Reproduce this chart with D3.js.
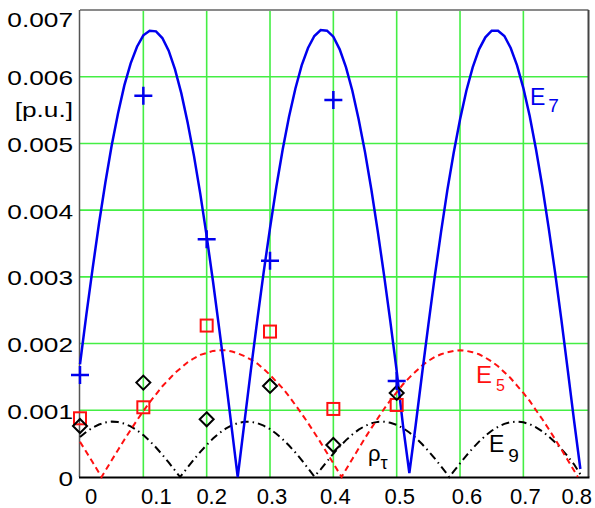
<!DOCTYPE html>
<html>
<head>
<meta charset="utf-8">
<script src="https://cdn.jsdelivr.net/npm/d3@7"></script>
<style>
  html, body { margin: 0; padding: 0; background: #fff; }
  svg { display: block; font-family: "Liberation Sans", Arial, sans-serif; }
</style>
</head>
<body>
<svg id="chart" width="595" height="508"></svg>
<script>
// ---------------- data ----------------
const xTicks = [0, 0.1, 0.2, 0.3, 0.4, 0.5, 0.6, 0.7, 0.8];
const xTickLabels = ["0", "0.1", "0.2", "0.3", "0.4", "0.5", "0.6", "0.7", "0.8"];
const yTicks = [0, 0.001, 0.002, 0.003, 0.004, 0.005, 0.006, 0.007];
const yTickLabels = ["0", "0.001", "0.002", "0.003", "0.004", "0.005", "0.006", "0.007"];
const xGrid = [0.1, 0.2, 0.3, 0.4, 0.5, 0.6, 0.7];
const yGrid = [0.001, 0.002, 0.003, 0.004, 0.005, 0.006];

// E7 (blue solid)
const e7X = [0,0.01,0.02,0.03,0.04,0.05,0.06,0.07,0.08,0.09,0.10,0.11,0.12,0.13,0.14,0.15,0.16,0.17,0.18,0.19,0.20,0.21,0.22,0.23,0.24,0.249,0.26,0.27,0.28,0.29,0.30,0.31,0.32,0.33,0.34,0.35,0.36,0.37,0.38,0.39,0.40,0.41,0.42,0.43,0.44,0.45,0.46,0.47,0.48,0.49,0.50,0.51,0.52,0.53,0.54,0.55,0.56,0.57,0.58,0.59,0.60,0.61,0.62,0.63,0.64,0.65,0.66,0.67,0.68,0.69,0.70,0.71,0.72,0.73,0.74,0.75,0.76,0.77,0.78,0.79];
const e7Y = [0.00169,0.00243,0.00313,0.00380,0.00441,0.00497,0.00545,0.00587,0.00620,0.00645,0.00662,0.00669,0.00668,0.00658,0.00639,0.00611,0.00575,0.00531,0.00481,0.00424,0.00361,0.00293,0.00221,0.00147,0.00070,0.00000,0.00085,0.00162,0.00236,0.00307,0.00373,0.00435,0.00491,0.00540,0.00582,0.00617,0.00643,0.00661,0.00670,0.00669,0.00660,0.00641,0.00614,0.00579,0.00536,0.00487,0.00431,0.00369,0.00303,0.00233,0.00159,0.00077,0.00006,0.00078,0.00154,0.00228,0.00300,0.00367,0.00430,0.00486,0.00536,0.00579,0.00614,0.00641,0.00659,0.00669,0.00669,0.00661,0.00643,0.00617,0.00583,0.00541,0.00491,0.00435,0.00373,0.00307,0.00236,0.00161,0.00085,0.00012];

// E5 (red dashed)
const e5X = [0,0.01,0.02,0.03,0.034,0.04,0.05,0.06,0.07,0.08,0.09,0.10,0.11,0.12,0.13,0.14,0.15,0.16,0.17,0.18,0.19,0.20,0.21,0.22,0.23,0.24,0.25,0.26,0.27,0.28,0.29,0.30,0.31,0.32,0.33,0.34,0.35,0.36,0.37,0.38,0.39,0.40,0.41,0.413,0.42,0.43,0.44,0.45,0.46,0.47,0.48,0.49,0.50,0.51,0.52,0.53,0.54,0.55,0.56,0.57,0.58,0.59,0.60,0.61,0.62,0.63,0.64,0.65,0.66,0.67,0.68,0.69,0.70,0.71,0.72,0.73,0.74,0.75,0.76,0.77,0.78,0.786];
const e5Y = [0.000528,0.000375,0.00022,0.000063,0,0.000094,0.000251,0.000406,0.000559,0.000707,0.000851,0.000988,0.00112,0.00124,0.00136,0.00146,0.00156,0.00164,0.00172,0.00178,0.00183,0.00186,0.00189,0.0019,0.0019,0.00188,0.00185,0.00181,0.00176,0.0017,0.00162,0.00153,0.00143,0.00133,0.00121,0.00108,0.000948,0.000809,0.000664,0.000515,0.000361,0.000204,0.000047,0,0.000112,0.000271,0.000428,0.000583,0.000733,0.000878,0.00102,0.00115,0.00127,0.00139,0.00149,0.00158,0.00167,0.00174,0.0018,0.00184,0.00187,0.00189,0.0019,0.00189,0.00187,0.00184,0.00179,0.00173,0.00166,0.00157,0.00148,0.00137,0.00126,0.00114,0.001,0.000865,0.000719,0.000568,0.000414,0.000255,0.000096,0];

// E9 (black dash-dot)
const e9X = [0,0.01,0.02,0.03,0.04,0.05,0.06,0.07,0.08,0.09,0.10,0.11,0.12,0.13,0.14,0.15,0.158,0.16,0.17,0.18,0.19,0.20,0.21,0.22,0.23,0.24,0.25,0.26,0.27,0.28,0.29,0.30,0.31,0.32,0.33,0.34,0.35,0.36,0.37,0.38,0.39,0.40,0.41,0.42,0.43,0.44,0.45,0.46,0.47,0.48,0.49,0.50,0.51,0.52,0.53,0.54,0.55,0.56,0.57,0.58,0.583,0.59,0.60,0.61,0.62,0.63,0.64,0.65,0.66,0.67,0.68,0.69,0.70,0.71,0.72,0.73,0.74,0.75,0.76,0.77,0.78,0.79];
const e9Y = [0.000599,0.000677,0.00074,0.000787,0.000817,0.00083,0.000824,0.0008,0.000759,0.000701,0.000628,0.000541,0.000442,0.000334,0.000219,0.000098,0,0.000023,0.000145,0.000263,0.000376,0.000481,0.000576,0.000658,0.000725,0.000776,0.000811,0.000828,0.000827,0.000808,0.00077,0.000717,0.000648,0.000565,0.000472,0.000367,0.000254,0.00013,0.000008,0.000114,0.000234,0.000349,0.000456,0.000553,0.000638,0.00071,0.000765,0.000804,0.000826,0.000829,0.000814,0.000782,0.000732,0.000667,0.000587,0.000494,0.000391,0.00028,0.00016,0.000039,0,0.000084,0.000205,0.000321,0.00043,0.00053,0.000618,0.000693,0.000752,0.000796,0.000822,0.00083,0.000821,0.000791,0.000744,0.000683,0.000607,0.000521,0.000419,0.00031,0.00019,0.00004];

// measured points
const ptX = [0, 0.1, 0.2, 0.3, 0.4, 0.5];
const e7Pts = [0.00153, 0.005715, 0.003565, 0.00324, 0.00565, 0.00144];
const e5Pts = [0.00088, 0.001045, 0.00227, 0.00218, 0.00102, 0.00108];
const e9Pts = [0.000765, 0.001415, 0.000865, 0.001365, 0.00048, 0.00126];

// ---------------- drawing ----------------
const svg = d3.select("#chart");
const L = 80, R = 586.7, T = 10, B = 477;
const x = d3.scaleLinear().domain([0, 0.8]).range([L, R]);
const y = d3.scaleLinear().domain([0, 0.007]).range([B, T]);
const BLUE = "#0000ee", RED = "#ff1010", GREEN = "#44ee44";

// grid
svg.append("g").selectAll("line").data(xGrid).join("line")
  .attr("x1", d => x(d)).attr("x2", d => x(d)).attr("y1", T).attr("y2", B)
  .attr("stroke", GREEN).attr("stroke-width", 1.6);
svg.append("g").selectAll("line").data(yGrid).join("line")
  .attr("x1", L).attr("x2", 588.5).attr("y1", d => y(d)).attr("y2", d => y(d))
  .attr("stroke", GREEN).attr("stroke-width", 1.6);

// frame
svg.append("line").attr("x1", L).attr("x2", 588.5).attr("y1", T).attr("y2", T).attr("stroke", "#8a8a8a").attr("stroke-width", 1.8);
svg.append("line").attr("x1", 588.5).attr("x2", 588.5).attr("y1", T).attr("y2", B).attr("stroke", "#444").attr("stroke-width", 2);
svg.append("line").attr("x1", L - 0.5).attr("x2", L - 0.5).attr("y1", T).attr("y2", B).attr("stroke", "#555").attr("stroke-width", 1.5);
svg.append("line").attr("x1", L - 1).attr("x2", 589.5).attr("y1", B + 0.5).attr("y2", B + 0.5).attr("stroke", "#000").attr("stroke-width", 2);

// curves
const line = d3.line().x(d => x(d[0])).y(d => y(d[1]));
const zip = (a, b) => a.map((v, i) => [v, b[i]]);
svg.append("path").datum(zip(e9X, e9Y)).attr("d", line)
  .attr("fill", "none").attr("stroke", "#000").attr("stroke-width", 2)
  .attr("stroke-dasharray", "8,4,1.5,4");
svg.append("path").datum(zip(e5X, e5Y)).attr("d", line)
  .attr("fill", "none").attr("stroke", RED).attr("stroke-width", 2)
  .attr("stroke-dasharray", "6,4");
svg.append("path").datum(zip(e7X, e7Y)).attr("d", line)
  .attr("fill", "none").attr("stroke", BLUE).attr("stroke-width", 2.5);

// markers
const sq = 12, dm = 7, pl = 9;
svg.append("g").selectAll("rect").data(zip(ptX, e5Pts)).join("rect")
  .attr("x", d => x(d[0]) - sq / 2).attr("y", d => y(d[1]) - sq / 2)
  .attr("width", sq).attr("height", sq)
  .attr("fill", "none").attr("stroke", RED).attr("stroke-width", 2);
svg.append("g").selectAll("path").data(zip(ptX, e9Pts)).join("path")
  .attr("d", d => { const cx = x(d[0]), cy = y(d[1]);
    return `M${cx},${cy - dm}L${cx + dm},${cy}L${cx},${cy + dm}L${cx - dm},${cy}Z`; })
  .attr("fill", "none").attr("stroke", "#000").attr("stroke-width", 2);
svg.append("g").selectAll("path").data(zip(ptX, e7Pts)).join("path")
  .attr("d", d => { const cx = x(d[0]), cy = y(d[1]);
    return `M${cx - pl},${cy}H${cx + pl}M${cx},${cy - pl}V${cy + pl}`; })
  .attr("fill", "none").attr("stroke", BLUE).attr("stroke-width", 2.5);

// x tick labels (slight shifts as in the original)
const xShift = [11, 13, 5, 2, 2, 3, 7, 2, -10];
svg.append("g").selectAll("text").data(xTicks).join("text")
  .attr("x", (d, i) => x(d) + xShift[i]).attr("y", 503.5)
  .attr("text-anchor", "middle").attr("font-size", 22).attr("fill", "#000")
  .text((d, i) => xTickLabels[i]);

// y tick labels (horizontally stretched)
svg.append("g").selectAll("text").data(yTicks).join("text")
  .attr("transform", d => {
    let cy = y(d) + 1;
    if (d === 0.007) cy = 19;
    return `translate(73,${cy + 7.5}) scale(1.25,1)`;
  })
  .attr("text-anchor", "end").attr("font-size", 21).attr("fill", "#000")
  .text((d, i) => yTickLabels[i]);
svg.append("text").attr("transform", "translate(73,117) scale(1.25,1)")
  .attr("text-anchor", "end").attr("font-size", 21).attr("fill", "#000").text("[p.u.]");

// curve labels
function sublabel(px, py, main, sub, color, fs, sfs, sdx, sdy) {
  const t = svg.append("text").attr("x", px).attr("y", py).attr("fill", color).attr("font-size", fs);
  t.append("tspan").text(main);
  t.append("tspan").attr("dx", sdx).attr("dy", sdy).attr("font-size", sfs).text(sub);
}
sublabel(530, 105, "E", "7", BLUE, 23, 19, 3, 7);
sublabel(476, 383, "E", "5", RED, 24, 16, 4, 8);
sublabel(489, 452, "E", "9", "#000", 23, 19, 4, 10);
sublabel(368, 461, "ρ", "τ", "#000", 22, 18, 0, 8);
</script>
</body>
</html>
